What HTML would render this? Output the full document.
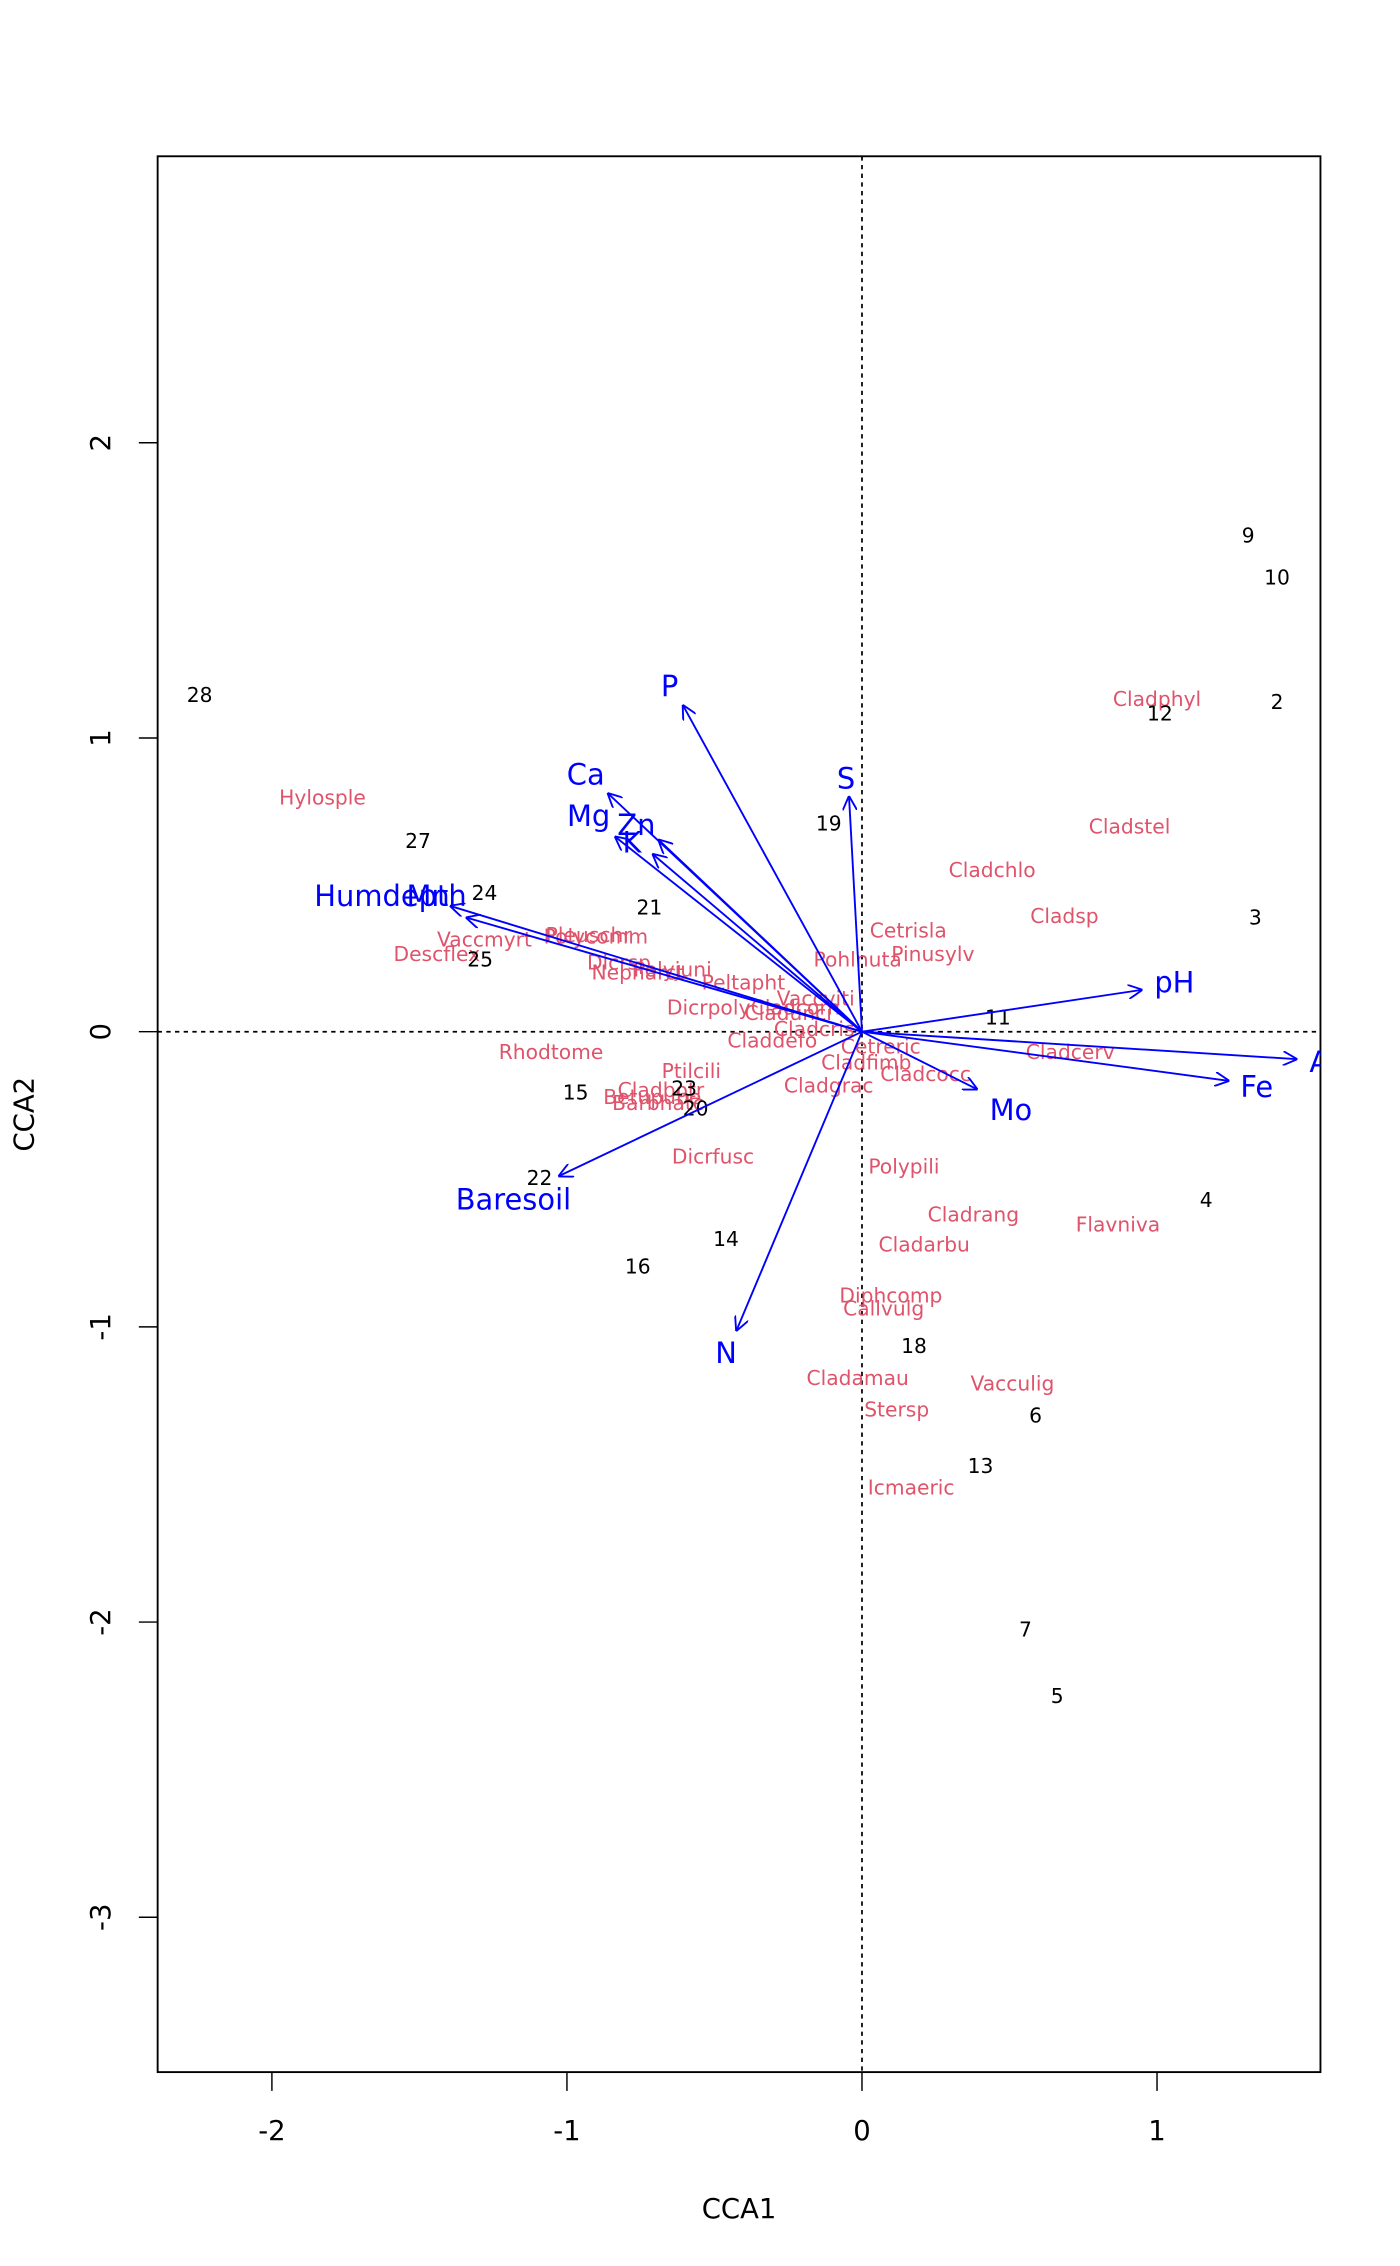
<!DOCTYPE html>
<html><head><meta charset="utf-8"><style>
html,body{margin:0;padding:0;background:#fff}
svg{display:block}
.sp{fill:#DF536B;font-size:14px;text-anchor:middle}
.st{fill:#000;font-size:14px;text-anchor:middle}
.ev{fill:#0000FF;font-size:20px;text-anchor:middle}
text{font-family:"DejaVu Sans","Liberation Sans",sans-serif}
</style></head><body>
<svg width="1400" height="2266" viewBox="0 0 968 1566" preserveAspectRatio="none" xmlns="http://www.w3.org/2000/svg">
<defs>
<clipPath id="c"><rect x="109" y="108" width="804" height="1324"/></clipPath>
<marker id="a" viewBox="0 0 10 10" refX="10" refY="5" markerWidth="10" markerHeight="10" markerUnits="userSpaceOnUse" orient="auto"><path d="M0,0 L10,5 L0,10" fill="none" stroke="#0000FF" stroke-width="1.3"/></marker>
</defs>
<rect x="109" y="108" width="804" height="1324" fill="none" stroke="#000" stroke-width="1.3"/>
<g stroke="#000" stroke-width="1">
<line x1="188" y1="1432" x2="188" y2="1445"/><line x1="392" y1="1432" x2="392" y2="1445"/><line x1="596" y1="1432" x2="596" y2="1445"/><line x1="800" y1="1432" x2="800" y2="1445"/>
<line x1="96" y1="306" x2="109" y2="306"/><line x1="96" y1="510" x2="109" y2="510"/><line x1="96" y1="713" x2="109" y2="713"/><line x1="96" y1="917" x2="109" y2="917"/><line x1="96" y1="1121" x2="109" y2="1121"/><line x1="96" y1="1325" x2="109" y2="1325"/>
</g>
<g font-size="19" text-anchor="middle">
<text x="188" y="1479">-2</text><text x="392" y="1479">-1</text><text x="596" y="1479">0</text><text x="800" y="1479">1</text>
<text x="511" y="1533">CCA1</text>
<text transform="translate(76,306) rotate(-90)">2</text>
<text transform="translate(76,510) rotate(-90)">1</text>
<text transform="translate(76,713) rotate(-90)">0</text>
<text transform="translate(76,917) rotate(-90)">-1</text>
<text transform="translate(76,1121) rotate(-90)">-2</text>
<text transform="translate(76,1325) rotate(-90)">-3</text>
<text transform="translate(23,770) rotate(-90)">CCA2</text>
</g>
<g clip-path="url(#c)">
<g stroke="#000" stroke-width="1.2" stroke-dasharray="3,3">
<line x1="596" y1="108" x2="596" y2="1432"/><line x1="109" y1="713" x2="913" y2="713"/>
</g>
<g class="sp">
<text x="223" y="556">Hylosple</text><text x="800" y="488">Cladphyl</text><text x="781" y="576">Cladstel</text>
<text x="686" y="606">Cladchlo</text><text x="736" y="638">Cladsp</text><text x="628" y="648">Cetrisla</text>
<text x="645" y="664">Pinusylv</text><text x="593" y="668">Pohlnuta</text><text x="335" y="654">Vaccmyrt</text>
<text x="407" y="651">Pleuschr</text><text x="412" y="652">Polycomm</text><text x="302" y="664">Descflex</text>
<text x="428" y="670">Dicrsp</text><text x="465" y="675">Polyjuni</text><text x="441" y="677">Nepharct</text>
<text x="514" y="684">Peltapht</text><text x="490" y="701">Dicrpoly</text><text x="564" y="695">Vaccviti</text>
<text x="545" y="705">Cladunci</text><text x="550" y="701">Cladcorn</text><text x="534" y="724">Claddefo</text>
<text x="563" y="716">Cladcris</text><text x="609" y="728">Cetreric</text><text x="599" y="739">Cladfimb</text>
<text x="640" y="747">Cladcocc</text><text x="573" y="755">Cladgrac</text><text x="381" y="732">Rhodtome</text>
<text x="478" y="745">Ptilcili</text><text x="457" y="758">Cladbotr</text><text x="451" y="763">Betupube</text>
<text x="455" y="767">Barbhatc</text><text x="493" y="804">Dicrfusc</text><text x="625" y="811">Polypili</text>
<text x="673" y="844">Cladrang</text><text x="773" y="851">Flavniva</text><text x="639" y="865">Cladarbu</text>
<text x="616" y="900">Diphcomp</text><text x="611" y="909">Callvulg</text><text x="593" y="957">Cladamau</text>
<text x="700" y="961">Vacculig</text><text x="620" y="979">Stersp</text><text x="630" y="1033">Icmaeric</text>
<text x="740" y="732">Cladcerv</text>
</g>
<g class="st">
<text x="863" y="375">9</text><text x="883" y="404">10</text><text x="883" y="490">2</text><text x="802" y="498">12</text>
<text x="138" y="485">28</text><text x="289" y="586">27</text><text x="335" y="622">24</text><text x="449" y="632">21</text>
<text x="332" y="668">25</text><text x="573" y="574">19</text><text x="868" y="639">3</text><text x="690" y="708">11</text>
<text x="398" y="760">15</text><text x="473" y="757">23</text><text x="481" y="771">20</text><text x="373" y="819">22</text>
<text x="441" y="880">16</text><text x="502" y="861">14</text><text x="834" y="834">4</text><text x="632" y="935">18</text>
<text x="716" y="983">6</text><text x="678" y="1018">13</text><text x="709" y="1131">7</text><text x="731" y="1177">5</text>
</g>
<g stroke="#0000FF" stroke-width="1.3" marker-end="url(#a)">
<line x1="596" y1="713" x2="472" y2="487"/>
<line x1="596" y1="713" x2="587" y2="550"/>
<line x1="596" y1="713" x2="420" y2="548"/>
<line x1="596" y1="713" x2="425" y2="578"/>
<line x1="596" y1="713" x2="455" y2="580"/>
<line x1="596" y1="713" x2="451" y2="590"/>
<line x1="596" y1="713" x2="311" y2="626"/>
<line x1="596" y1="713" x2="322" y2="634"/>
<line x1="596" y1="713" x2="790" y2="684"/>
<line x1="596" y1="713" x2="897" y2="732"/>
<line x1="596" y1="713" x2="850" y2="747"/>
<line x1="596" y1="713" x2="676" y2="753"/>
<line x1="596" y1="713" x2="509" y2="920"/>
<line x1="596" y1="713" x2="386" y2="813"/>
</g>
<g class="ev">
<text x="463" y="481">P</text><text x="585" y="545">S</text><text x="405" y="542">Ca</text>
<text x="407" y="571">Mg</text><text x="440" y="577">Zn</text><text x="437" y="589">K</text>
<text x="270" y="626">Humdepth</text><text x="296" y="626">Mn</text>
<text x="812" y="686">pH</text><text x="915" y="741">Al</text><text x="869" y="758">Fe</text>
<text x="699" y="774">Mo</text><text x="502" y="942">N</text><text x="355" y="836">Baresoil</text>
</g>
</g>
</svg>
</body></html>
